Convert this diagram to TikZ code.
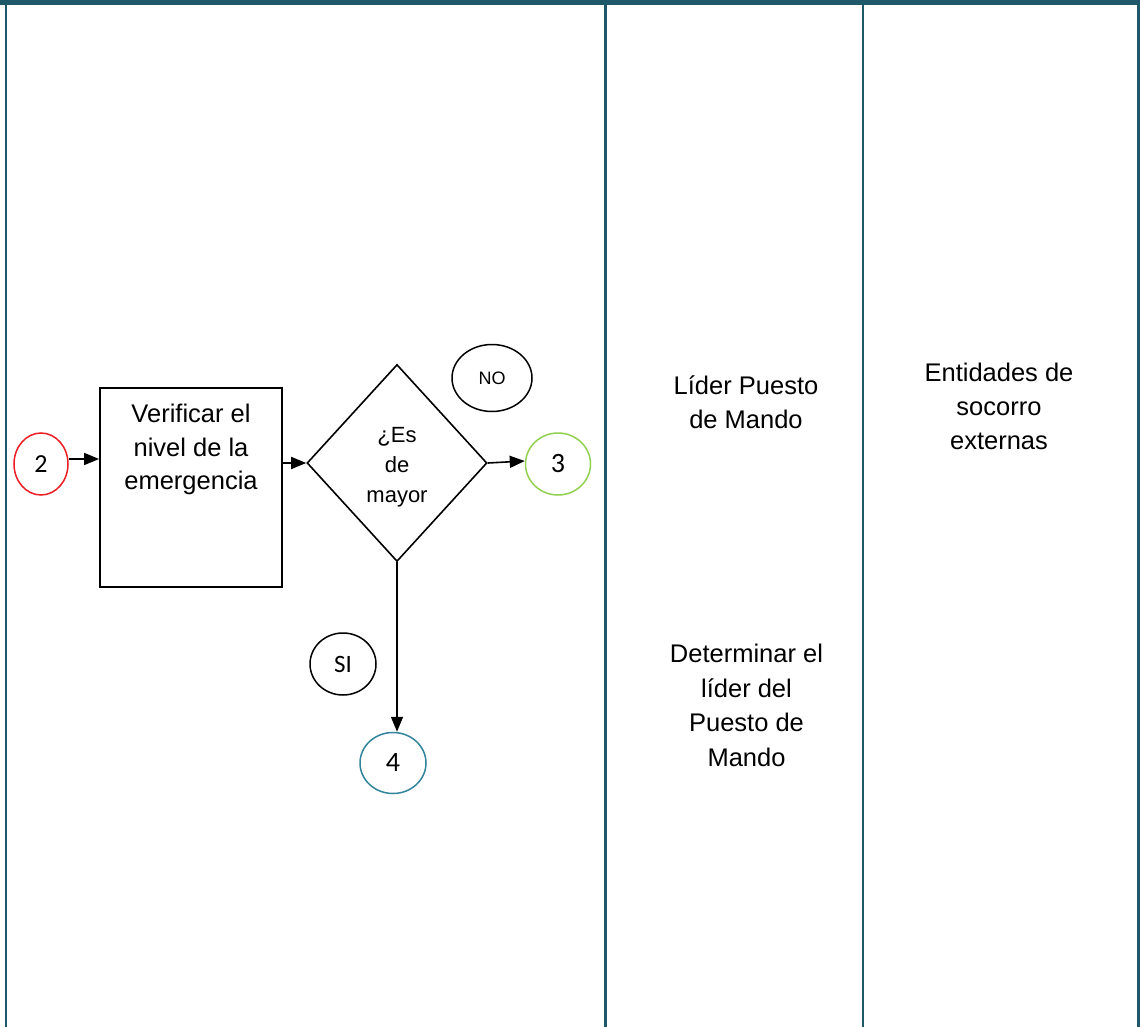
\documentclass[tikz,border=0pt]{standalone}
\usepackage{fontspec}
\setmainfont{Liberation Sans}
\newfontfamily\numfont{Carlito}
\usetikzlibrary{arrows.meta,shapes.geometric}
\definecolor{lanecol}{RGB}{31,88,104}
\definecolor{redc}{RGB}{235,30,35}
\definecolor{greenc}{RGB}{146,208,80}
\definecolor{tealc}{RGB}{49,132,155}
\begin{document}
\begin{tikzpicture}[x=1pt,y=-1pt,
  lane/.style={draw=lanecol,line width=2.4pt},
  conn/.style={ellipse,draw,line width=1.5pt,inner sep=0pt,font=\numfont\fontsize{28}{30}\selectfont},
  tag/.style={ellipse,draw=black,line width=1.5pt,inner sep=0pt},
  procbox/.style={rectangle,draw=black,line width=1.8pt,inner sep=0pt},
  decision/.style={diamond,draw=black,line width=1.6pt,inner sep=0pt},
  bigtext/.style={align=center,inner sep=0pt,font=\fontsize{25.5}{34}\selectfont},
  midtext/.style={align=center,inner sep=0pt,font=\fontsize{22}{30}\selectfont},
  arr/.style={line width=1.6pt,-{Triangle[length=15pt,width=12pt]}}]
\useasboundingbox (0,0) rectangle (1140,1027);
\fill[white] (0,0) rectangle (1140,1027);

% swimlane frame
\fill[lanecol] (0,0) rectangle (1140,5);
\draw[lane] (6,0) -- (6,1027);
\draw[lane] (605.5,0) -- (605.5,1027);
\draw[lane] (863,0) -- (863,1027);
\draw[lane] (1138.5,0) -- (1138.5,1027);

% connectors (off-page references)
\node[conn,draw=redc,minimum width=54,minimum height=62,font=\numfont\fontsize{26}{30}\selectfont] (c2) at (41,464) {2};
\node[conn,draw=greenc,minimum width=65,minimum height=62] (c3) at (558,464) {3};
\node[conn,draw=tealc,minimum width=66,minimum height=61] (c4) at (393,763) {4};

% process step
\node[procbox,minimum width=182,minimum height=199] (verif) at (191,487.5) {};
\node[bigtext,font=\fontsize{25.5}{33.5}\selectfont] (veriftxt) at (191,449.5) {Verificar el\\nivel de la\\emergencia};

% decision
\node[decision,minimum width=180,minimum height=197] (dec) at (397,463) {};
\node[midtext] (dectxt) at (397,467) {¿Es\\de\\mayor};

% branch tags
\node[tag,minimum width=80,minimum height=67,font=\fontsize{18}{20}\selectfont] (tno) at (492,378) {NO};
\node[tag,minimum width=66,minimum height=62,font=\numfont\fontsize{25}{27}\selectfont] (tsi) at (343,664) {SI};

% lane texts
\node[bigtext,font=\fontsize{25.5}{33.5}\selectfont] (lider) at (746,402) {Líder Puesto\\de Mando};
\node[bigtext] (entid) at (999,406.5) {Entidades de\\socorro\\externas};
\node[bigtext,font=\fontsize{25.5}{34.6}\selectfont] (determ) at (746.5,705.5) {Determinar el\\líder del\\Puesto de\\Mando};

% flow
\draw[arr] ([yshift=5pt]c2.east) -- ([yshift=5pt]c2.east -| verif.west);
\draw[arr] (verif.east |- dec.west) -- (dec.west);
\draw[arr] (dec.east) -- ([yshift=3pt]c3.west);
\draw[arr] (dec.south) -- (dec.south |- c4.north);
\end{tikzpicture}
\end{document}
